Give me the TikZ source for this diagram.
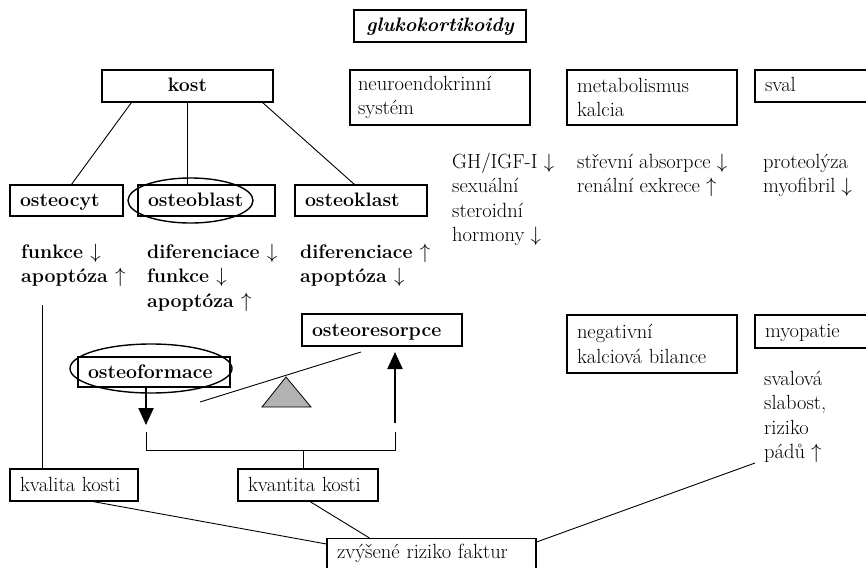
\documentclass[tikz,border=0pt]{standalone}
\usetikzlibrary{arrows.meta,calc}
\hyphenpenalty=10000
\exhyphenpenalty=10000
\newcommand\regf{\fontsize{20.5}{24.5}\selectfont}
\newcommand\boldf{\fontsize{19.5}{24.5}\selectfont\bfseries}
\begin{document}
\begin{tikzpicture}[x=1pt,y=-1pt,
  reg/.style={font=\regf},
  bold/.style={font=\boldf},
  box/.style={draw, line width=1.1pt, inner ysep=0pt, inner xsep=10pt},
  one/.style={box, text height=15pt, text depth=3pt},
  lone/.style={one, align=left},
  two/.style={box, align=left},
  plain/.style={inner sep=0pt, align=left, anchor=base west},
  conn/.style={line width=0.9pt},
  bigarrow/.style={line width=2.2pt, -{Triangle[width=15pt,length=17pt]}},
  ring/.style={line width=1.4pt}
]
\useasboundingbox (0,0) rectangle (866,567);
\fill[white] (0,0) rectangle (866,567);
\clip (0,0) rectangle (866,567);

% top row
\node[one,bold,minimum width=172pt,minimum height=32pt,inner xsep=0pt] (gk) at (440,26) {\itshape glukokortikoidy};
\node[one,bold,minimum width=171pt,minimum height=32pt,inner xsep=0pt] (kost) at (187.5,86) {kost};
\node[two,reg,inner xsep=8pt,text width=164pt,minimum height=55pt] (neuro) at (440,97.5) {neuroendokrinní\\systém};
\node[two,reg,text width=150pt,minimum height=55pt] (metab) at (652,97.5) {metabolismus\\kalcia};
\node[lone,reg,text width=125pt,minimum height=32pt] (sval) at (827.5,86) {sval};

% cells
\node[lone,bold,text width=93pt,minimum height=31pt] (ocyt) at (66.5,200.5) {osteocyt};
\node[lone,bold,text width=117pt,minimum height=31pt] (oblast) at (206.5,200.5) {osteoblast};
\node[lone,bold,text width=112pt,minimum height=31pt] (oklast) at (361,200.5) {osteoklast};
\draw[ring] (190.5,200.5) ellipse [x radius=62.5pt, y radius=22.5pt];

\draw[conn] ([xshift=30pt]kost.south west) -- ([xshift=62pt]ocyt.north west);
\draw[conn] (kost.south) -- (kost.south |- oblast.north);
\draw[conn] ([xshift=-11pt]kost.south east) -- ([xshift=60pt]oklast.north west);

% effects (anchor = baseline of the last line)
\node[plain,bold] (tcyt) at (21,282.5) {funkce $\downarrow$\\apoptóza $\uparrow$};
\node[plain,bold] (tblast) at (147,307) {diferenciace $\downarrow$\\funkce $\downarrow$\\apoptóza $\uparrow$};
\node[plain,bold] (tklast) at (300,282.5) {diferenciace $\uparrow$\\apoptóza $\downarrow$};
\node[plain,reg] (tneuro) at (452,241.5) {GH/IGF-I $\downarrow$\\sexuální\\steroidní\\hormony $\downarrow$};
\node[plain,reg] (tmetab) at (577,192.5) {střevní absorpce $\downarrow$\\renální exkrece $\uparrow$};
\node[plain,reg] (tsval) at (763,192.5) {proteolýza\\myofibril $\downarrow$};

% middle boxes
\node[lone,bold,text width=140pt,minimum height=32pt] (ores) at (382,330) {osteoresorpce};
\node[lone,bold,text width=132pt,minimum height=30pt] (of) at (154,372) {osteoformace};
\draw[ring] (151,368.5) ellipse [x radius=81pt, y radius=24.5pt];
\node[two,reg,text width=150pt,minimum height=58pt] (neg) at (652,344) {negativní\\kalciová~bilance};
\node[lone,reg,text width=125pt,minimum height=33pt] (myo) at (827.5,331.5) {myopatie};
\node[plain,reg] (tmyo) at (764,458.5) {svalová\\slabost,\\riziko\\pádů $\uparrow$};

% balance
\coordinate (dtip) at (146,425);
\draw[bigarrow] (dtip |- of.south) -- (dtip);
\coordinate (ubot) at (395,423);
\coordinate (utip) at (395,352);
\draw[bigarrow] (ubot) -- (utip);
\coordinate (bl) at (200,402);
\coordinate (br) at (361,352);
\draw[conn] (bl) -- (br);
\draw[fill=black!30, line width=0.8pt] (286,377) -- (262,407) -- (311,407) -- cycle;
\coordinate (bkl) at (146,432);
\coordinate (bkr) at (395,432);
\draw[conn] (bkl) -- ++(0,18) -| (bkr);

% bottom
\node[lone,reg,text width=108pt,minimum height=32pt] (kval) at (74,485) {kvalita~kosti};
\node[lone,reg,text width=120pt,minimum height=32pt] (kvan) at (308,485) {kvantita~kosti};
\node[box,reg,anchor=north,inner ysep=5pt,text height=15pt,text depth=15pt,text width=189pt,align=left] (zv) at (431.5,538) {zvýšené~riziko~faktur};

\coordinate (bm) at (303,450);
\draw[conn] (bm) -- (bm |- kvan.north);
\coordinate (kvtop) at (42,305);
\draw[conn] (kvtop) -- (kvtop |- kval.north);
\draw[conn] ([xshift=19pt]kval.south) -- ([yshift=-6pt]zv.north west);
\draw[conn] ([xshift=2pt]kvan.south) -- ([xshift=43pt]zv.north west);
\coordinate (fallend) at (755,463);
\draw[conn] ([yshift=-4pt]zv.north east) -- (fallend);
\end{tikzpicture}
\end{document}
